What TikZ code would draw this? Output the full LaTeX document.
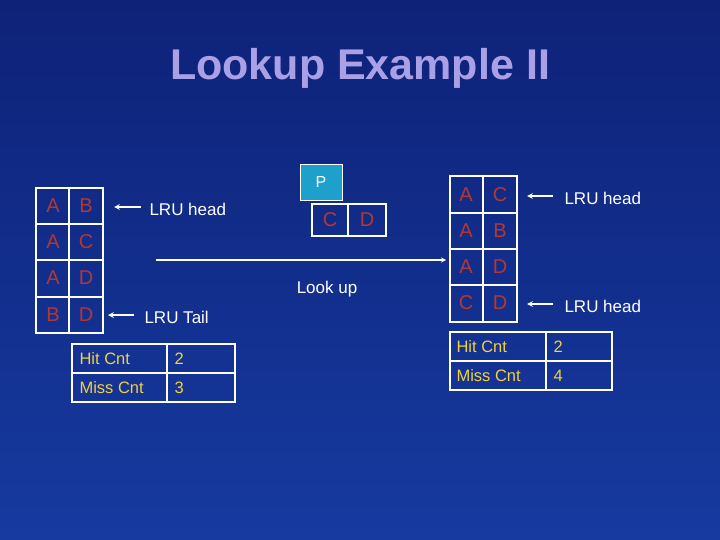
\documentclass[tikz,border=0pt]{standalone}
\usepackage{fontspec}
\setmainfont{Liberation Sans}
\definecolor{bgtop}{RGB}{14,34,120}
\definecolor{bgbot}{RGB}{22,58,160}
\definecolor{ttl}{RGB}{170,160,230}
\definecolor{cellred}{RGB}{180,55,50}
\definecolor{ylw}{RGB}{240,210,60}
\definecolor{pbox}{RGB}{30,160,205}
\begin{document}
\begin{tikzpicture}[x=1pt,y=-1pt,
  grid/.style={draw=white,line width=2pt},
  ltr/.style={text=cellred,font=\fontsize{20}{22}\selectfont},
  ytx/.style={text=ylw,font=\fontsize{16.5}{18}\selectfont,anchor=west},
  wtx/.style={text=white,font=\fontsize{17}{19}\selectfont},
  arr/.style={draw=white,line width=1.6pt,-stealth}]
\useasboundingbox (0,0) rectangle (720,540);
\shade[top color=bgtop,bottom color=bgbot] (0,0) rectangle (720,540);
\node[text=ttl,font=\bfseries\fontsize{43}{48}\selectfont] (title) at (360,68) {Lookup Example II};
% left table
\draw[grid] (36,188) rectangle (103,333);
\draw[grid] (69,188) -- (69,333) (36,224) -- (103,224) (36,260) -- (103,260) (36,297) -- (103,297);
\foreach \y/\a/\b [count=\i] in {206/A/B,242/A/C,278/A/D,315/B/D}{
  \node[ltr] (la\i) at (53,\y) {\a}; \node[ltr] (lb\i) at (86,\y) {\b};}
\draw[grid] (72,344) rectangle (235,402);
\draw[grid] (167,344) -- (167,402) (72,373) -- (235,373);
\node[ytx] (lhit) at (76,359) {Hit Cnt}; \node[ytx] (lhv) at (171,359) {2};
\node[ytx] (lmiss) at (76,388) {Miss Cnt}; \node[ytx] (lmv) at (171,388) {3};
\node[wtx,anchor=west] (lhead) at (146,209) {LRU head};
\node[wtx,anchor=west] (ltail) at (141,317) {LRU Tail};
\coordinate (lh1) at (141,207); \coordinate (lh2) at (114,207);
\coordinate (lt1) at (134,315); \coordinate (lt2) at (108,315);
\draw[arr] (lh1) -- (lh2); \draw[arr] (lt1) -- (lt2);
% P and CD
\node[fill=pbox,draw=white,line width=0.5pt,minimum width=42,minimum height=36,text=white,font=\fontsize{16}{18}\selectfont] (P) at (321,182) {P};
\draw[grid] (312,204) rectangle (386,236); \draw[grid] (348,204) -- (348,236);
\node[ltr] (pc) at (330,220) {C}; \node[ltr] (pd) at (367,220) {D};
\coordinate (ls) at (156,260); \coordinate (le) at (446,260);
\draw[arr,line width=1.2pt] (ls) -- (le);
\node[wtx] (look) at (327,289) {Look up};
% right table
\draw[grid] (450,176) rectangle (517,322);
\draw[grid] (483,176) -- (483,322) (450,213) -- (517,213) (450,249) -- (517,249) (450,285) -- (517,285);
\foreach \y/\a/\b [count=\i] in {195/A/C,231/A/B,267/A/D,303/C/D}{
  \node[ltr] (ra\i) at (466,\y) {\a}; \node[ltr] (rb\i) at (500,\y) {\b};}
\draw[grid] (450,332) rectangle (612,390);
\draw[grid] (546,332) -- (546,390) (450,361) -- (612,361);
\node[ytx] (rhit) at (453,347) {Hit Cnt}; \node[ytx] (rhv) at (550,347) {2};
\node[ytx] (rmiss) at (453,376) {Miss Cnt}; \node[ytx] (rmv) at (550,376) {4};
\node[wtx,anchor=west] (rhead1) at (561,198) {LRU head};
\node[wtx,anchor=west] (rhead2) at (561,306) {LRU head};
\coordinate (ra1s) at (553,196); \coordinate (ra1e) at (527,196);
\coordinate (ra2s) at (553,304); \coordinate (ra2e) at (527,304);
\draw[arr] (ra1s) -- (ra1e); \draw[arr] (ra2s) -- (ra2e);
\end{tikzpicture}
\end{document}
